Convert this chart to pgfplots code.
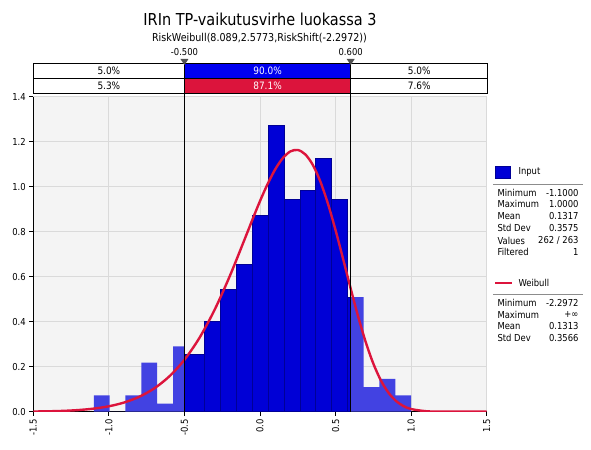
\documentclass[border=0pt]{standalone}
\usepackage{fontspec}
\setmainfont{DejaVu Sans}[FakeStretch=0.88]
\usepackage{pgfplots}
\pgfplotsset{compat=1.18}
\usetikzlibrary{calc}
\definecolor{bg}{RGB}{244,244,244}
\definecolor{gridc}{RGB}{218,218,218}
\definecolor{hatch}{RGB}{66,66,226}
\definecolor{solidB}{RGB}{0,0,214}
\definecolor{solidE}{RGB}{0,0,150}
\definecolor{crim}{RGB}{220,20,60}
\definecolor{boxblue}{RGB}{0,0,240}
\definecolor{tri}{RGB}{80,80,80}
\definecolor{rulec}{RGB}{140,140,140}
\newcommand{\sm}{\fontsize{9.6}{11}\selectfont}
\newcommand{\pc}{\fontsize{10.2}{12}\selectfont}
\begin{document}
\begin{tikzpicture}[x=1bp,y=1bp]
\path[use as bounding box] (0,0) rectangle (591,450);
\begin{axis}[
  at={(33.3bp,38.3bp)}, anchor=south west,
  scale only axis, width=453.4bp, height=315bp,
  xmin=-1.5, xmax=1.5, ymin=0, ymax=1.4,
  axis background/.style={fill=bg},
  grid=major, major grid style={draw=gridc, line width=0.8bp},
  axis x line*=bottom, axis y line*=left,
  axis line style={-, line width=0.8bp},
  xtick={-1.5,-1,-0.5,0,0.5,1,1.5},
  xticklabels={{-1.5},{-1.0},{-0.5},{0.0},{0.5},{1.0},{1.5}},
  ytick={0,0.2,0.4,0.6,0.8,1.0,1.2,1.4},
  yticklabels={0.0,0.2,0.4,0.6,0.8,1.0,1.2,1.4},
  tick align=outside, major tick length=4bp,
  tick style={black, line width=0.8bp},
  xticklabel style={rotate=90, anchor=east, font=\sm},
  yticklabel style={font=\sm},
]
% hatched bins left of -0.5
\addplot[ybar interval, fill=hatch, draw=none] coordinates {
  (-1.1,0.0727) (-0.995,0) (-0.89,0.0727) (-0.785,0.2181) (-0.68,0.0363)
  (-0.575,0.2908) (-0.5,0)};
% solid bins between -0.5 and 0.6
\addplot[ybar interval, fill=solidB, draw=solidE, line width=0.9bp] coordinates {
  (-0.5,0.2545) (-0.365,0.3999) (-0.26,0.5453) (-0.155,0.6543) (-0.05,0.8724)
  (0.055,1.2723) (0.16,0.9451) (0.265,0.9815) (0.37,1.1269) (0.475,0.9451)
  (0.58,0.5089) (0.6,0)};
% hatched bins right of 0.6
\addplot[ybar interval, fill=hatch, draw=none] coordinates {
  (0.6,0.5089) (0.685,0.1090) (0.79,0.1454) (0.895,0.0727) (1.0,0)};
% fitted Weibull density
\addplot[crim, line width=2.4bp, smooth] coordinates {
  (-1.5,0.0008) (-1.4,0.0018) (-1.3,0.0037) (-1.2,0.0074) (-1.1,0.0137)
  (-1.0,0.0241) (-0.9,0.0406) (-0.8,0.0660) (-0.7,0.1034) (-0.6,0.1570)
  (-0.5,0.2308) (-0.4,0.3289) (-0.3,0.4534) (-0.2,0.6027) (-0.1,0.7692)
  (-0.05,0.8540) (0,0.9361) (0.05,1.0115) (0.1,1.0764) (0.15,1.1262)
  (0.2,1.1565) (0.25,1.1632) (0.3,1.1435) (0.35,1.0961) (0.4,1.0218)
  (0.45,0.9234) (0.5,0.8065) (0.55,0.6782) (0.6,0.5470) (0.65,0.4213)
  (0.7,0.3083) (0.75,0.2134) (0.8,0.1388) (0.85,0.0844) (0.9,0.0476)
  (0.95,0.0247) (1.0,0.0117) (1.1,0.0020) (1.2,0.0002) (1.3,0.0000)
  (1.4,0) (1.5,0)};
\coordinate (L) at (axis cs:-0.5,0);
\coordinate (R) at (axis cs:0.6,0);
\end{axis}
% title
\node[font=\fontsize{16.5}{19}\selectfont] at (260,431) {IRIn TP-vaikutusvirhe luokassa 3};
\node[font=\fontsize{10.9}{12}\selectfont] at (259.5,412) {RiskWeibull(8.089,2.5773,RiskShift(-2.2972))};
% percent boxes
\fill[boxblue] (L |- 0,386.7) rectangle (R |- 0,371.7);
\fill[crim] (L |- 0,371.7) rectangle (R |- 0,356.7);
\draw[line width=0.8bp] (33.3,356.7) rectangle (487.7,386.7);
\draw[line width=0.8bp] (33.3,371.7) -- (487.7,371.7);
\draw[line width=0.8bp] (L) -- (L |- 0,391);
\draw[line width=0.8bp] (R) -- (R |- 0,391);
\fill[tri] ($(L |- 0,391)+(-4,0)$) -- ($(L |- 0,391)+(4,0)$) -- ($(L |- 0,391)+(0,-6)$) -- cycle;
\fill[tri] ($(R |- 0,391)+(-4,0)$) -- ($(R |- 0,391)+(4,0)$) -- ($(R |- 0,391)+(0,-6)$) -- cycle;
\node[font=\sm] at ($(L |- 0,398)$) {-0.500};
\node[font=\sm] at ($(R |- 0,398)$) {0.600};
\node[font=\pc] at ($(33.3,379.2)!0.5!(L |- 0,379.2)$) {5.0\%};
\node[font=\pc, white] at ($(L |- 0,379.2)!0.5!(R |- 0,379.2)$) {90.0\%};
\node[font=\pc] at ($(R |- 0,379.2)!0.5!(487.7,379.2)$) {5.0\%};
\node[font=\pc] at ($(33.3,364.2)!0.5!(L |- 0,364.2)$) {5.3\%};
\node[font=\pc, white] at ($(L |- 0,364.2)!0.5!(R |- 0,364.2)$) {87.1\%};
\node[font=\pc] at ($(R |- 0,364.2)!0.5!(487.7,364.2)$) {7.6\%};
% legend panel
\fill[solidB, draw=solidE, line width=0.9bp] (495,271.7) rectangle (510.7,283.3);
\node[font=\sm, anchor=west] at (515,278.3) {Input};
\draw[rulec, line width=0.8bp] (493.3,266) -- (583.3,266);
\foreach \y/\a/\b in {256.7/Minimum/-1.1000, 246/Maximum/1.0000, 234/Mean/0.1317, 221.7/Std Dev/0.3575, 209.3/Values/{262 / 263}, 197.7/Filtered/1}{
  \node[font=\sm, anchor=west] at (494,\y) {\a};
  \node[font=\sm, anchor=east] at (582,\y) {\b};
}
\draw[crim, line width=2.4bp] (495,166.7) -- (511.7,166.7);
\node[font=\sm, anchor=west] at (515,166.7) {Weibull};
\draw[rulec, line width=0.8bp] (493.3,155.7) -- (583.3,155.7);
\foreach \y/\a/\b in {146.7/Minimum/-2.2972, 135/Maximum/+∞, 124/Mean/0.1313, 111.7/Std Dev/0.3566}{
  \node[font=\sm, anchor=west] at (494,\y) {\a};
  \node[font=\sm, anchor=east] at (582,\y) {\b};
}
\end{tikzpicture}
\end{document}
